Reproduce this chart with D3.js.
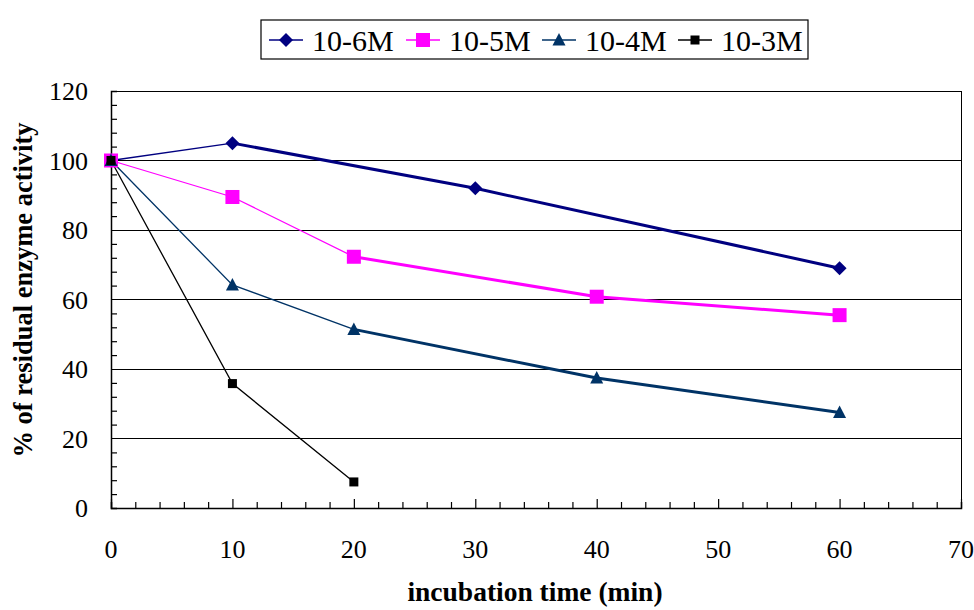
<!DOCTYPE html>
<html>
<head>
<meta charset="utf-8">
<script src="https://cdn.jsdelivr.net/npm/d3@7"></script>
<style>
  body { margin: 0; background: #fff; }
</style>
</head>
<body>
<div id="chart"></div>
<script>
// data
const seriesNames = ["10-6M", "10-5M", "10-4M", "10-3M"]
const seriesColors = ["#000080", "#ff00ff", "#003366", "#000000"]
const seriesShapes = ["diamond", "square", "triangle", "smallsquare"]
const times6 = [0, 10, 30, 60]
const values6 = [100, 105, 92, 69]
const times5 = [0, 10, 20, 40, 60]
const values5 = [100, 89.5, 72.3, 60.8, 55.5]
const times4 = [0, 10, 20, 40, 60]
const values4 = [100, 64.2, 51.4, 37.4, 27.5]
const times3 = [0, 10, 20]
const values3 = [100, 35.8, 7.5]
// index from which the line is drawn thick
const thickFrom = [1, 2, 2, 99]
const xTicks = [0, 10, 20, 30, 40, 50, 60, 70]
const yTicks = [0, 20, 40, 60, 80, 100, 120]

const allSeries = [
  [times6, values6], [times5, values5], [times4, values4], [times3, values3]
].map(([t, v], i) => ({
  name: seriesNames[i], color: seriesColors[i], shape: seriesShapes[i],
  thick: thickFrom[i],
  points: t.map((x, j) => ({ x: x, y: v[j] }))
}))

const FONT = "'Liberation Serif'"
const W = 974, H = 610
const margin = { top: 91, right: 13, bottom: 102, left: 111 }
const width = W - margin.left - margin.right
const height = H - margin.top - margin.bottom

const svg = d3.select('#chart').append('svg')
  .attr('width', W).attr('height', H)

const g = svg.append('g')
  .attr('transform', `translate(${margin.left},${margin.top})`)

const x = d3.scaleLinear().domain([0, 70]).range([0, width])
const y = d3.scaleLinear().domain([0, 120]).range([height, 0])

// gridlines
g.append('g').selectAll('line')
  .data(yTicks.filter(d => d > 0 && d < 120))
  .enter().append('line')
    .attr('x1', 0).attr('x2', width)
    .attr('y1', d => y(d)).attr('y2', d => y(d))
    .attr('stroke', '#000').attr('stroke-width', 1)
    .attr('shape-rendering', 'crispEdges')

// frame top/right
g.append('path')
  .attr('d', `M0,0H${width}V${height}`)
  .attr('fill', 'none').attr('stroke', '#000')
  .attr('shape-rendering', 'crispEdges')

// y axis, ticks pointing inside
const yAxis = g.append('g')
  .call(d3.axisLeft(y).tickValues(d3.range(0, 121, 4)).tickSize(-6).tickFormat(''))
yAxis.select('.domain').attr('stroke-width', 1.5)
yAxis.selectAll('.tick line').attr('stroke-width', 1.2)
yAxis.selectAll('.tick').filter(d => d % 20 === 0).select('line').attr('x2', 0)
g.append('g').selectAll('text')
  .data(yTicks).enter().append('text')
    .attr('x', -23).attr('y', d => y(d)).attr('dy', '0.35em')
    .attr('text-anchor', 'end')
    .style('font-family', FONT)
    .style('font-size', '26px')
    .text(d => d)

// x axis, ticks pointing inside
const xAxis = g.append('g')
  .attr('transform', `translate(0,${height})`)
  .call(d3.axisBottom(x).tickValues(d3.range(0, 71, 2)).tickSize(-6).tickFormat(''))
xAxis.select('.domain').attr('stroke-width', 1.5)
xAxis.selectAll('.tick line').attr('stroke-width', 1.2)
xAxis.selectAll('.tick').filter(d => d % 10 === 0).select('line').attr('y2', -9)
g.append('g').selectAll('text')
  .data(xTicks).enter().append('text')
    .attr('x', d => x(d)).attr('y', height + 50)
    .attr('text-anchor', 'middle')
    .style('font-family', FONT)
    .style('font-size', '26px')
    .text(d => d)

// axis titles
svg.append('text')
  .attr('x', 535).attr('y', 601)
  .attr('text-anchor', 'middle')
  .style('font-family', FONT)
  .style('font-size', '27.5px').style('font-weight', 'bold')
  .text('incubation time (min)')

svg.append('text')
  .attr('transform', `translate(32,290) rotate(-90)`)
  .attr('text-anchor', 'middle')
  .style('font-family', FONT)
  .style('font-size', '26.5px').style('font-weight', 'bold')
  .text('% of residual enzyme activity')

function drawMarker(sel, shape, color) {
  if (shape === 'diamond') {
    sel.append('path').attr('d', 'M0,-7L7,0L0,7L-7,0Z').attr('fill', color)
  } else if (shape === 'square') {
    sel.append('rect').attr('x', -7).attr('y', -7).attr('width', 14).attr('height', 14).attr('fill', color)
  } else if (shape === 'triangle') {
    sel.append('path').attr('d', 'M0,-7L6.5,5.5L-6.5,5.5Z').attr('fill', color)
  } else {
    sel.append('rect').attr('x', -4.5).attr('y', -4.5).attr('width', 9).attr('height', 9).attr('fill', color)
  }
}

const line = d3.line().x(d => x(d.x)).y(d => y(d.y))

allSeries.forEach(s => {
  const thin = s.points.slice(0, Math.min(s.thick, s.points.length - 1) + 1)
  g.append('path').datum(thin)
    .attr('d', line).attr('fill', 'none')
    .attr('stroke', s.color).attr('stroke-width', 1.3)
  if (s.thick < s.points.length - 1) {
    g.append('path').datum(s.points.slice(s.thick))
      .attr('d', line).attr('fill', 'none')
      .attr('stroke', s.color).attr('stroke-width', 3)
  }
})

// markers drawn after lines; 10-3M on top at t=0
allSeries.forEach(s => {
  g.append('g').selectAll('g')
    .data(s.points).enter().append('g')
      .attr('transform', d => `translate(${x(d.x)},${y(d.y)})`)
      .each(function() { drawMarker(d3.select(this), s.shape, s.color) })
})

// legend
const legend = svg.append('g').attr('transform', 'translate(261,20)')
legend.append('rect')
  .attr('width', 547).attr('height', 39)
  .attr('fill', '#fff').attr('stroke', '#000').attr('stroke-width', 1.2)
const legendX = [8, 145, 281, 417]
allSeries.forEach((s, i) => {
  const item = legend.append('g').attr('transform', `translate(${legendX[i]},20)`)
  item.append('line').attr('x1', 0).attr('x2', 34)
    .attr('stroke', s.color).attr('stroke-width', 1.3)
  const m = item.append('g').attr('transform', 'translate(17,0)')
  drawMarker(m, s.shape, s.color)
  item.append('text').attr('x', 43).attr('dy', '0.35em')
    .style('font-family', FONT)
    .style('font-size', '30px').text(s.name)
})
</script>
</body>
</html>
